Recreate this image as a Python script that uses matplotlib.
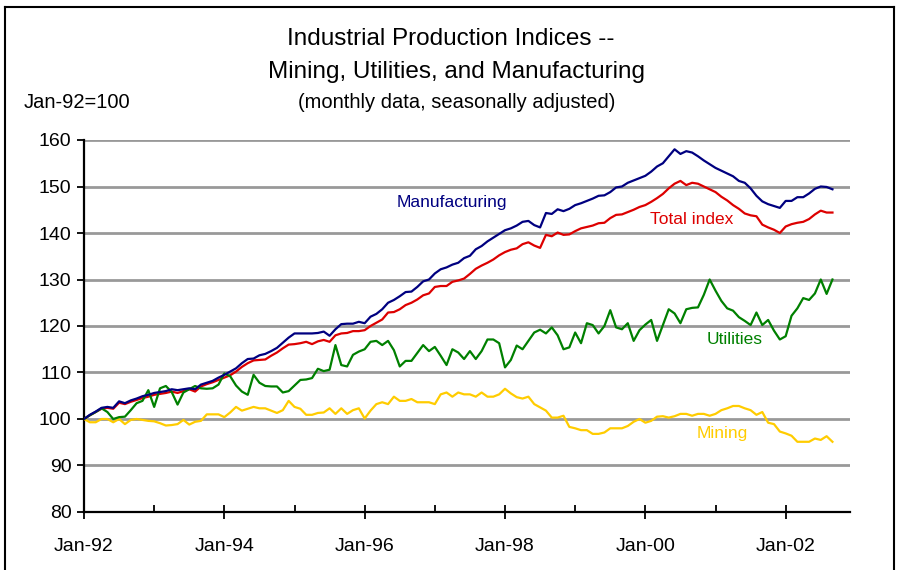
import matplotlib.pyplot as plt
from matplotlib.lines import Line2D

# monthly index values, Jan-92 .. Sep-02 (Jan-92 = 100)
manufacturing = [
    100.0, 100.9, 101.6, 102.4, 102.6, 102.4, 103.8, 103.4, 104.0, 104.4, 104.9, 105.2,
    105.6, 105.8, 106.0, 106.4, 106.2, 106.4, 106.6, 106.4, 107.4, 107.8, 108.2, 108.9,
    109.5, 110.2, 110.9, 112.0, 112.9, 113.0, 113.7, 114.0, 114.6, 115.3, 116.4, 117.5,
    118.4, 118.4, 118.4, 118.4, 118.5, 118.8, 117.9, 119.3, 120.4, 120.5, 120.5, 120.9,
    120.6, 122.0, 122.6, 123.6, 125.0, 125.6, 126.4, 127.3, 127.4, 128.4, 129.6, 130.0,
    131.3, 132.2, 132.6, 133.2, 133.6, 134.6, 135.1, 136.5, 137.2, 138.2, 139.0, 139.8,
    140.6, 141.0, 141.6, 142.4, 142.6, 141.7, 141.2, 144.3, 144.1, 145.1, 144.7, 145.2,
    146.0, 146.4, 146.9, 147.4, 148.0, 148.1, 148.8, 149.8, 150.0, 150.8, 151.3, 151.8,
    152.3, 153.2, 154.3, 155.0, 156.5, 158.0, 157.0, 157.6, 157.3, 156.5, 155.6, 154.8,
    154.0, 153.4, 152.8, 152.2, 151.2, 150.8, 149.6, 148.0, 146.8, 146.2, 145.8, 145.4,
    146.9, 146.9, 147.7, 147.7, 148.5, 149.5, 150.0, 149.9, 149.4,
]
total_index = [
    100.0, 100.8, 101.5, 102.2, 102.4, 102.2, 103.5, 103.2, 103.7, 104.1, 104.5, 104.8,
    105.2, 105.4, 105.6, 105.9, 105.6, 106.0, 106.4, 105.9, 107.0, 107.5, 107.9, 108.4,
    108.9, 109.4, 110.2, 111.2, 112.0, 112.6, 112.7, 112.8, 113.6, 114.3, 115.2, 116.0,
    116.1, 116.3, 116.6, 116.1, 116.7, 117.0, 116.6, 118.0, 118.4, 118.5, 118.9, 118.9,
    119.1, 120.0, 120.7, 121.4, 122.9, 123.0, 123.6, 124.5, 125.0, 125.7, 126.6, 127.0,
    128.4, 128.6, 128.6, 129.5, 129.8, 130.2, 131.2, 132.3, 133.0, 133.6, 134.3, 135.2,
    135.9, 136.4, 136.7, 137.6, 138.0, 137.3, 136.8, 139.6, 139.3, 140.1, 139.6, 139.7,
    140.4, 141.0, 141.3, 141.6, 142.1, 142.2, 143.2, 143.9, 144.0, 144.5, 145.0, 145.6,
    146.0, 146.7, 147.5, 148.4, 149.6, 150.6, 151.2, 150.3, 150.8, 150.6, 150.0, 149.4,
    148.8, 147.8, 147.0, 146.0, 145.2, 144.2, 143.8, 143.6, 141.8, 141.2, 140.7, 140.0,
    141.4, 141.9, 142.2, 142.4, 143.0, 144.0, 144.8, 144.4, 144.4,
]
utilities = [
    100.0, 100.8, 101.5, 102.3, 101.5, 100.0, 100.4, 100.5, 101.9, 103.4, 103.9, 106.2,
    102.6, 106.6, 107.1, 105.8, 103.1, 105.7, 106.4, 107.1, 106.6, 106.5, 106.6, 107.4,
    109.8, 109.2, 107.2, 105.9, 105.2, 109.5, 107.8, 107.1, 107.0, 107.0, 105.7, 106.0,
    107.2, 108.4, 108.5, 108.8, 110.8, 110.3, 110.6, 115.9, 111.6, 111.3, 113.8, 114.5,
    115.0, 116.6, 116.8, 115.9, 116.8, 114.8, 111.3, 112.5, 112.5, 114.2, 115.9, 114.6,
    115.5, 113.6, 111.6, 115.0, 114.3, 112.9, 114.6, 112.9, 114.6, 117.1, 117.1, 116.3,
    111.1, 112.7, 115.8, 115.0, 116.8, 118.6, 119.2, 118.4, 119.7, 118.0, 115.0, 115.4,
    118.6, 116.3, 120.6, 120.2, 118.4, 120.0, 123.4, 119.7, 119.3, 120.6, 116.8, 119.1,
    120.3, 121.3, 116.8, 120.2, 123.6, 122.7, 120.6, 123.6, 123.9, 124.0, 126.7, 130.0,
    127.6, 125.4, 123.8, 123.3, 121.9, 121.1, 120.2, 122.9, 120.2, 121.3, 119.0, 117.1,
    117.8, 122.2, 123.8, 126.0, 125.6, 127.0, 130.0, 126.9, 130.0,
]
mining = [
    100.0, 99.3, 99.3, 100.0, 100.0, 99.3, 100.0, 98.9, 99.8, 100.0, 99.8, 99.6,
    99.5, 99.1, 98.6, 98.7, 98.9, 99.8, 98.8, 99.4, 99.6, 101.0, 101.0, 101.0,
    100.4, 101.4, 102.6, 101.8, 102.2, 102.6, 102.3, 102.3, 101.8, 101.3, 101.9, 103.9,
    102.6, 102.2, 100.9, 100.9, 101.3, 101.4, 102.3, 101.1, 102.3, 101.1, 101.9, 102.3,
    100.1, 101.8, 103.2, 103.6, 103.2, 104.8, 103.9, 103.9, 104.3, 103.6, 103.6, 103.6,
    103.2, 105.3, 105.7, 104.8, 105.7, 105.3, 105.3, 104.8, 105.7, 104.8, 104.8, 105.3,
    106.5, 105.5, 104.7, 104.4, 104.8, 103.2, 102.5, 101.8, 100.3, 100.3, 100.7, 98.3,
    98.0, 97.6, 97.6, 96.8, 96.8, 97.1, 98.0, 98.0, 98.0, 98.5, 99.4, 100.0,
    99.2, 99.6, 100.5, 100.6, 100.3, 100.6, 101.1, 101.1, 100.7, 101.1, 101.1, 100.7,
    101.1, 101.9, 102.3, 102.8, 102.8, 102.3, 101.9, 100.9, 101.5, 99.2, 98.9, 97.3,
    96.9, 96.4, 95.1, 95.1, 95.1, 95.8, 95.5, 96.3, 95.1,
]
year_labels = ["Jan-92", "Jan-94", "Jan-96", "Jan-98", "Jan-00", "Jan-02"]

plt.rcParams['font.family'] = ['Liberation Sans', 'DejaVu Sans']

fig = plt.figure(figsize=(9, 5.7), dpi=100)
ax = fig.add_axes([84 / 900, 1 - 512 / 570, 766 / 900, 372 / 570])

months = list(range(len(manufacturing)))
ax.plot(months, total_index, color='#DD0000', lw=1.6, zorder=3)
ax.plot(months, manufacturing, color='#000080', lw=1.6, zorder=4)
ax.plot(months, mining, color='#FFCC00', lw=1.6, zorder=3)
ax.plot(months, utilities, color='#008000', lw=1.6, zorder=3)

ax.set_xlim(0, 131)
ax.set_ylim(80, 160)
ax.set_yticks(range(80, 161, 10))
ax.yaxis.grid(True, color='#999999', lw=2)
ax.set_axisbelow(True)

ax.set_xticks(range(0, 121, 24))
ax.set_xticklabels(year_labels)
ax.set_xticks(range(12, 121, 24), minor=True)
ax.tick_params(axis='x', which='major', direction='inout', length=10, width=1.3,
               labelsize=14, pad=14)
ax.tick_params(axis='x', which='minor', direction='in', length=5, width=1.3)
ax.tick_params(axis='y', direction='out', length=5, width=1.3, labelsize=14, pad=4)

for side in ['top', 'right']:
    ax.spines[side].set_visible(False)
for side in ['left', 'bottom']:
    ax.spines[side].set_linewidth(1.6)

# series labels
ax.text(53.5, 146.5, "Manufacturing", color='#000080', fontsize=12.5, va='center')
ax.text(96.8, 142.8, "Total index", color='#DD0000', fontsize=12.5, va='center')
ax.text(106.4, 117.0, "Utilities", color='#008000', fontsize=12.5, va='center')
ax.text(104.8, 96.8, "Mining", color='#FFCC00', fontsize=12.5, va='center')

# headings
fig.text(451 / 900, 1 - 39 / 570, "Industrial Production Indices --", ha='center',
         va='center', fontsize=17.5)
fig.text(456 / 900, 1 - 72 / 570, "Mining, Utilities, and Manufacturing", ha='center',
         va='center', fontsize=17.5)
fig.text(457 / 900, 1 - 103 / 570, "(monthly data, seasonally adjusted)", ha='center',
         va='center', fontsize=14.5)
fig.text(24 / 900, 1 - 102 / 570, "Jan-92=100", ha='left', va='center', fontsize=14.5)

# frame around the chart
fig.add_artist(Line2D([5 / 900, 5 / 900], [0, 1 - 7 / 570], color='black', lw=1.5))
fig.add_artist(Line2D([5 / 900, 894 / 900], [1 - 7 / 570, 1 - 7 / 570], color='black', lw=1.5))
fig.add_artist(Line2D([894 / 900, 894 / 900], [0, 1 - 7 / 570], color='black', lw=1.5))

fig.savefig("out.png", dpi=100)
